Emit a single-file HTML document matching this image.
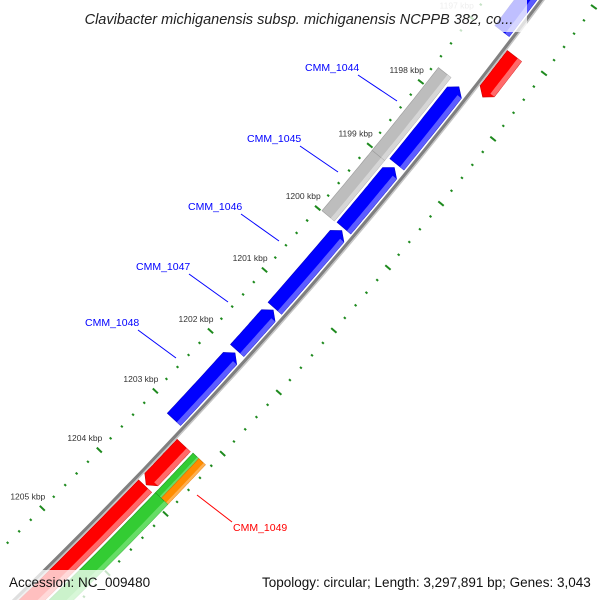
<!DOCTYPE html>
<html><head><meta charset="utf-8"><style>
html,body{margin:0;padding:0;background:#fff;width:600px;height:600px;overflow:hidden;}
svg{display:block;font-family:"Liberation Sans",sans-serif;overflow:hidden;}
</style></head><body>
<svg id="map" width="600" height="600" viewBox="0 0 600 600" xmlns="http://www.w3.org/2000/svg">
<g id="ruler"></g>
<g id="backbone"></g>
<g id="features"></g>
<g id="labels"></g>
<rect x="70" y="0" width="457" height="32" fill="#fff" fill-opacity="0.75"/>
<text x="299" y="24" text-anchor="middle" font-size="14.5" font-style="italic" fill="#222">Clavibacter michiganensis subsp. michiganensis NCPPB 382, co...</text>
<rect x="0" y="570" width="150" height="30" fill="#fff" fill-opacity="0.75"/>
<rect x="256" y="570" width="344" height="30" fill="#fff" fill-opacity="0.75"/>
<text x="9" y="587" font-size="13.5" fill="#111">Accession: NC_009480</text>
<text x="262" y="587" font-size="13.5" fill="#111">Topology: circular; Length: 3,297,891 bp; Genes: 3,043</text>
</svg>
<script>
// gene data (kbp)
const geneStart = [1196.0, 1197.76, 1199.02, 1200.02, 1201.30, 1202.00, 1197.73, 1199.03, 1197.05, 1203.25, 1203.93, 1203.24, 1203.24, 1203.90];
const geneEnd   = [1196.90, 1198.97, 1199.98, 1201.27, 1201.96, 1203.10, 1199.03, 1199.99, 1197.68, 1203.91, 1207.0, 1203.90, 1203.90, 1207.0];
const geneStrand = [-1, -1, -1, -1, -1, -1, 0, 0, 1, 1, 1, 0, 0, 0];
const geneKind = ['blue','blue','blue','blue','blue','blue','grey','grey','red','red','red','green-thin','orange','green'];
const rulerStart = 1195, rulerEnd = 1207;
const rulerLabelKb = [1197, 1198, 1199, 1200, 1201, 1202, 1203, 1204, 1205];

const CX = -3501.4, CY = -3019.1, RB = 5046;
const NS = 'http://www.w3.org/2000/svg';
function ang(kb){ return (38.33 + (kb - 1198) * 0.934) * Math.PI / 180; }
function pt(r, kb){ const a = ang(kb); return [CX + r * Math.cos(a), CY + r * Math.sin(a)]; }
const kindStyle = {
  'blue': {r1: -22, r2: -4, fill: '#0000ff', light: '#5c5cff', dark: '#0000c8'},
  'grey': {r1: -41, r2: -25, fill: '#bdbdbd', light: '#d6d6d6', dark: '#9a9a9a'},
  'red': {r1: 3, r2: 21, fill: '#ff0000', light: '#ff6a6a', dark: '#c80000'},
  'green-thin': {r1: 24, r2: 32, fill: '#33cc33', light: '#66dd66', dark: '#229922'},
  'orange': {r1: 32, r2: 41, fill: '#ff8c00', light: '#ffb050', dark: '#d87000'},
  'green': {r1: 24, r2: 41, fill: '#33cc33', light: '#66dd66', dark: '#229922'}
};
function shape(s, e, r1, r2, strand, head){
  const pts = [];
  const n = 24;
  let bs = s, be = e;
  if (strand < 0) bs = s + head;
  if (strand > 0) be = e - head;
  for (let i = 0; i <= n; i++) pts.push(pt(RB + r2, bs + (be - bs) * i / n));
  if (strand > 0) pts.push(pt(RB + (r1 + r2) / 2, e));
  for (let i = n; i >= 0; i--) pts.push(pt(RB + r1, bs + (be - bs) * i / n));
  if (strand < 0) pts.push(pt(RB + (r1 + r2) / 2, s));
  return pts.map(p => p[0].toFixed(1) + ',' + p[1].toFixed(1)).join(' ');
}
const fg = document.getElementById('features');
for (let i = 0; i < geneStart.length; i++) {
  const st = kindStyle[geneKind[i]];
  const g = document.createElementNS(NS, 'g');
  
  
  const p = document.createElementNS(NS, 'polygon');
  p.setAttribute('points', shape(geneStart[i], geneEnd[i], st.r1, st.r2, geneStrand[i], 0.09));
  p.setAttribute('fill', st.fill);
  p.setAttribute('stroke', st.dark);
  p.setAttribute('stroke-width', '0.6');
  
  
  g.appendChild(p);
  const w = st.r2 - st.r1;
  const h = document.createElementNS(NS, 'polygon');
  h.setAttribute('points', shape(geneStart[i] + (geneStrand[i] < 0 ? 0.09 : 0), geneEnd[i] - (geneStrand[i] > 0 ? 0.09 : 0), st.r2 - w * 0.28, st.r2, 0, 0));
  h.setAttribute('fill', st.light);
  
  
  g.appendChild(h);
  fg.appendChild(g);
}
// backbone
const bb = document.getElementById('backbone');
function arcLine(r, s, e, color, wd, name){
  const pts = [];
  for (let i = 0; i <= 60; i++) pts.push(pt(r, s + (e - s) * i / 60));
  const pl = document.createElementNS(NS, 'polyline');
  pl.setAttribute('points', pts.map(p => p[0].toFixed(1) + ',' + p[1].toFixed(1)).join(' '));
  pl.setAttribute('fill', 'none');
  pl.setAttribute('stroke', color);
  pl.setAttribute('stroke-width', wd);
  
  
  return pl;
}
bb.appendChild(arcLine(RB - 0.5, rulerStart, rulerEnd, '#808080', 3.2, 'backbone-line'));
bb.appendChild(arcLine(RB + 1.8, rulerStart, rulerEnd, '#c4c4c4', 1.4, 'backbone-shadow'));
// ruler
const rg = document.getElementById('ruler');
const rIn = RB - 46, rOut = RB + 46;
for (let k = 0; k <= Math.round((rulerEnd - rulerStart) / 0.2); k++) {
  const kb = rulerStart + k * 0.2;
  const major = Math.abs(kb - Math.round(kb)) < 0.01;
  const len = major ? 3.5 : 1.2;
  [rIn, rOut].forEach(function(r){
    const a = pt(r - len, kb), b = pt(r + len, kb);
    const l = document.createElementNS(NS, 'line');
    l.setAttribute('x1', a[0].toFixed(1)); l.setAttribute('y1', a[1].toFixed(1));
    l.setAttribute('x2', b[0].toFixed(1)); l.setAttribute('y2', b[1].toFixed(1));
    l.setAttribute('stroke', '#1e8a1e');
    l.setAttribute('stroke-width', '2');
    
    
    rg.appendChild(l);
  });
}
rulerLabelKb.forEach(function(kb){
  const p = pt(rIn, kb);
  const t = document.createElementNS(NS, 'text');
  t.setAttribute('x', (p[0] + 3).toFixed(1));
  t.setAttribute('y', (p[1] - 9).toFixed(1));
  t.setAttribute('text-anchor', 'end');
  t.setAttribute('font-size', '8.5');
  t.setAttribute('fill', kb === 1197 ? '#bbb' : '#333');
  
  
  t.textContent = kb + ' kbp';
  rg.appendChild(t);
});
// gene labels
const labelText = ['CMM_1044', 'CMM_1045', 'CMM_1046', 'CMM_1047', 'CMM_1048', 'CMM_1049'];
const labelColor = ['#0000ff', '#0000ff', '#0000ff', '#0000ff', '#0000ff', '#ff0000'];
const labelPos = [[305,71,'start',358,75,397,101],[247,142,'start',300,146,338,172],[188,210,'start',241,214,279,241],[136,270,'start',189,274,228,302],[85,326,'start',138,330,176,358],[233,531,'start',232,522,197,495]];
const lg = document.getElementById('labels');
labelText.forEach(function(txt, i){
  const L = labelPos[i];
  const ln = document.createElementNS(NS, 'line');
  ln.setAttribute('x1', L[3]); ln.setAttribute('y1', L[4]);
  ln.setAttribute('x2', L[5]); ln.setAttribute('y2', L[6]);
  ln.setAttribute('stroke', labelColor[i]);
  ln.setAttribute('stroke-width', '1');
  
  
  lg.appendChild(ln);
  const t = document.createElementNS(NS, 'text');
  t.setAttribute('x', L[0]); t.setAttribute('y', L[1]);
  t.setAttribute('text-anchor', L[2]);
  t.setAttribute('font-size', '10.5');
  t.setAttribute('fill', labelColor[i]);
  
  
  t.textContent = txt;
  lg.appendChild(t);
});
</script>
</body></html>
